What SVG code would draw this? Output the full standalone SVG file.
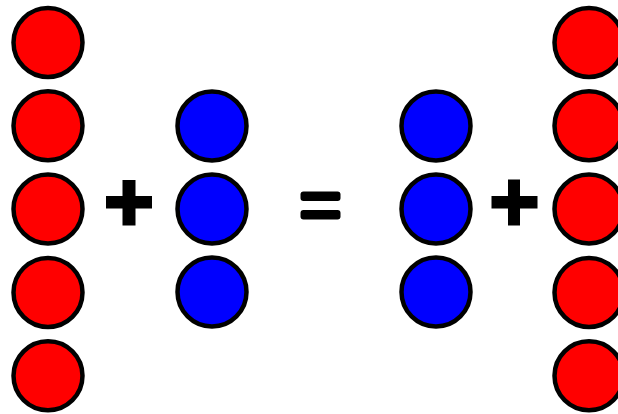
<svg xmlns="http://www.w3.org/2000/svg" width="618" height="414" viewBox="0 0 618 414">
<style>
.r{fill:#ff0000;stroke:#000;stroke-width:4.5}
.b{fill:#0000ff;stroke:#000;stroke-width:4.5}
.op{fill:#000}
</style>
<rect width="618" height="414" fill="#fff"/>
<g id="left-red">
<circle class="r" cx="48" cy="42.5" r="34.5"/>
<circle class="r" cx="48" cy="125.8" r="34.5"/>
<circle class="r" cx="48" cy="209" r="34.5"/>
<circle class="r" cx="48" cy="292.4" r="34.5"/>
<circle class="r" cx="48" cy="375.7" r="34.5"/>
</g>
<g id="plus-left">
<rect class="op" x="106" y="196" width="46" height="12.5"/>
<rect class="op" x="122.5" y="180" width="13" height="45.5"/>
</g>
<g id="left-blue">
<circle class="b" cx="212" cy="126" r="34.5"/>
<circle class="b" cx="212" cy="209" r="34.5"/>
<circle class="b" cx="212" cy="292" r="34.5"/>
</g>
<g id="equals">
<rect class="op" x="300.5" y="191.5" width="40" height="9.5" rx="3"/>
<rect class="op" x="300.5" y="210" width="40" height="9.5" rx="3"/>
</g>
<g id="right-blue">
<circle class="b" cx="436" cy="126" r="34.5"/>
<circle class="b" cx="436" cy="209" r="34.5"/>
<circle class="b" cx="436" cy="292" r="34.5"/>
</g>
<g id="plus-right">
<rect class="op" x="491.5" y="196" width="46" height="12.5"/>
<rect class="op" x="508" y="179.5" width="12" height="46"/>
</g>
<g id="right-red">
<circle class="r" cx="589" cy="42.5" r="34.5"/>
<circle class="r" cx="589" cy="125.8" r="34.5"/>
<circle class="r" cx="589" cy="209" r="34.5"/>
<circle class="r" cx="589" cy="292.4" r="34.5"/>
<circle class="r" cx="589" cy="375.7" r="34.5"/>
</g>
</svg>
